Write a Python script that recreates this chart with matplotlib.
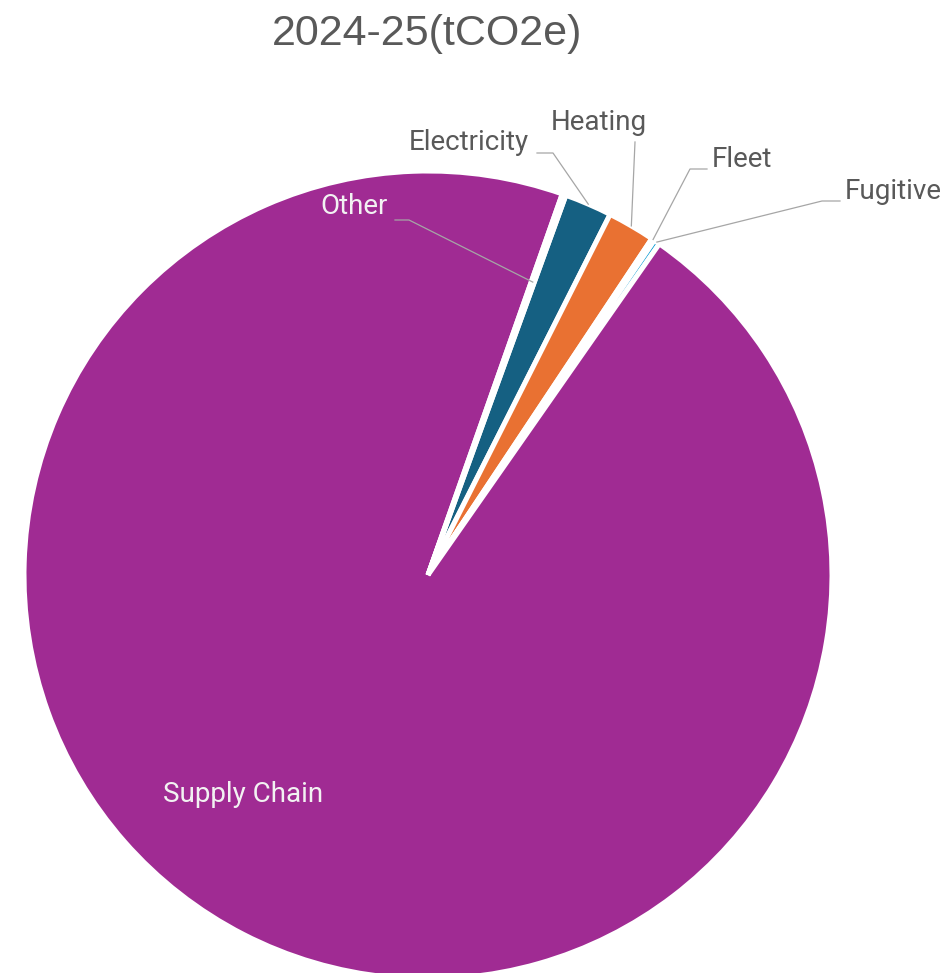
import numpy as np
import matplotlib.pyplot as plt

# shares of 2024-25 emissions (%)
categories = ['Electricity', 'Heating', 'Fleet', 'Fugitive', 'Supply Chain', 'Other']
values = [1.9, 1.9, 0.12, 0.24, 95.6, 0.15]
colours = ['#156082', '#E97132', '#196B24', '#0F9ED5', '#A02B93', '#4EA72E']

W, H = 946, 973
CX, CY, R = 428, 575, 404   # pie centre and radius in pixels


def px(x, y):
    # pixel position (from top left) -> data units of the pie
    return (x - CX) / R, (CY - y) / R


fig = plt.figure(figsize=(W / 100, H / 100), dpi=100)
ax = fig.add_axes([0, 0, 1, 1])

# Excel first slice angle ~20 deg, clockwise
wedges, _ = ax.pie(values, colors=colours, startangle=90 - 19.95, counterclock=False,
                   radius=1.0, center=(0, 0), frame=True,
                   wedgeprops=dict(edgecolor='white', linewidth=3.6))
ax.set_xlim(-CX / R, (W - CX) / R)
ax.set_ylim(-(H - CY) / R, CY / R)
ax.set_aspect('auto')
ax.axis('off')

labelFont = dict(family='Roboto', fontsize=20)
grey = '#595959'
leaderCol = '#a6a6a6'

# label text centre, leader start, elbow (pixels), radius of leader end
labelLayout = {
    'Electricity': ((469, 142), (537, 153), (553, 153), 1.0, grey),
    'Heating': ((599, 122), (635, 142), None, 1.0, grey),
    'Fleet': ((742, 159), (707, 169), (690, 169), 1.0, grey),
    'Fugitive': ((893, 191), (840, 201), (822, 201), 1.0, grey),
    'Other': ((354, 206), (395, 220), (409, 220), 0.77, '#f2f2f2'),
}

for name, w in zip(categories, wedges):
    mid = np.deg2rad((w.theta1 + w.theta2) / 2)
    if name in labelLayout:
        txt, start, elbow, rEnd, col = labelLayout[name]
        ax.text(*px(*txt), name, ha='center', va='center', color=col, **labelFont)
        pts = [px(*start)]
        if elbow is not None:
            pts.append(px(*elbow))
        pts.append((rEnd * np.cos(mid), rEnd * np.sin(mid)))
        pts = np.array(pts)
        ax.plot(pts[:, 0], pts[:, 1], color=leaderCol, lw=0.9)
    elif name == 'Supply Chain':
        ax.text(*px(243, 795), name, ha='center', va='center', color='#f2f2f2', **labelFont)

ax.text(*px(427, 34), '2024-25(tCO2e)', ha='center', va='center', color=grey,
        family='Liberation Sans', fontsize=31)

fig.savefig('out.png', dpi=100)
